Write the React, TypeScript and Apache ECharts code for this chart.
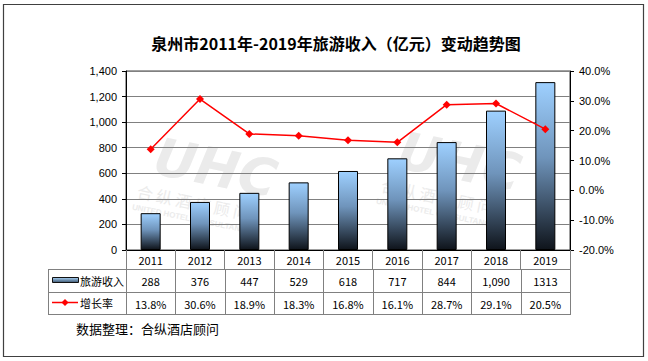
import React, { useEffect, useRef } from 'react';
import * as echarts from 'echarts';

const years = ['2011', '2012', '2013', '2014', '2015', '2016', '2017', '2018', '2019'];
const income = [288, 376, 447, 529, 618, 717, 844, 1090, 1313];
const incomeTableLabels = ['288', '376', '447', '529', '618', '717', '844', '1,090', '1313'];
const growth = [13.8, 30.6, 18.9, 18.3, 16.8, 16.1, 28.7, 29.1, 20.5];
const incomeAxis = { min: 0, max: 1400, interval: 200 };
const growthAxis = { min: -20, max: 40, interval: 10 };
const seriesNames = ['旅游收入', '增长率'];
const titleText = '泉州市2011年-2019年旅游收入（亿元）变动趋势图';
const sourceText = '数据整理：合纵酒店顾问';

const W = 648;
const H = 361;
const GL = 126;
const GR = 570;
const GT = 71;
const GB = 250;
const TABLE_L = 48;
const ROW1 = 269;
const ROW2 = 291.5;
const ROW3 = 314;

const CJK = "'Noto Sans CJK SC', 'Noto Sans', sans-serif";
const AXF = "'Liberation Sans', Arial, sans-serif";
const WM = '#ebebeb';

function fmtThousands(v: number) {
  return v.toLocaleString('en-US');
}

function watermark(x: number, y: number) {
  return {
    type: 'group',
    x,
    y,
    rotation: -0.2,
    silent: true,
    z: -5,
    children: [
      {
        type: 'text',
        x: 0,
        y: 0,
        style: {
          text: 'UHC',
          fontSize: 52,
          fontWeight: 'bold',
          fontStyle: 'italic',
          fontFamily: "'DejaVu Sans', sans-serif",
          fill: WM,
        },
      },
      {
        type: 'text',
        x: -10,
        y: 56,
        style: {
          text: '合 纵 酒 店 顾 问',
          fontSize: 16,
          fontFamily: CJK,
          fill: WM,
        },
      },
      {
        type: 'text',
        x: -12,
        y: 77,
        style: {
          text: 'UNITED HOTEL CONSULTANCY',
          fontSize: 8,
          fontWeight: 'bold',
          fontFamily: AXF,
          fill: WM,
        },
      },
    ],
  };
}

export default function App() {
  const ref = useRef<HTMLDivElement>(null);

  useEffect(() => {
    if (!ref.current) return;
    const chart = echarts.init(ref.current, undefined, { renderer: 'svg' });
    const n = years.length;
    const colW = (GR - GL) / n;

    const graphics: any[] = [];
    graphics.push({
      type: 'rect',
      shape: { x: 3.5, y: 4.5, width: 640, height: 352 },
      style: { fill: 'none', stroke: '#404040', lineWidth: 1.2 },
      silent: true,
    });
    graphics.push({
      type: 'text',
      x: 336,
      y: 43,
      style: {
        text: titleText,
        fontSize: 16,
        fontWeight: 'bold',
        fontFamily: CJK,
        fill: '#000',
        textAlign: 'center',
        textVerticalAlign: 'middle',
      },
    });
    graphics.push(watermark(160, 130));
    graphics.push(watermark(404, 124));

    const lineStyle = { stroke: '#808080', lineWidth: 1 };
    [ROW1, ROW2, ROW3].forEach((y) => {
      graphics.push({
        type: 'line',
        shape: { x1: TABLE_L, y1: Math.round(y) + 0.5, x2: GR + 0.5, y2: Math.round(y) + 0.5 },
        style: lineStyle,
        silent: true,
      });
    });
    graphics.push({
      type: 'line',
      shape: { x1: TABLE_L + 0.5, y1: ROW1, x2: TABLE_L + 0.5, y2: ROW3 + 1 },
      style: lineStyle,
      silent: true,
    });
    for (let i = 0; i <= n; i++) {
      const x = Math.round(GL + i * colW) + 0.5;
      graphics.push({
        type: 'line',
        shape: { x1: x, y1: ROW1, x2: x, y2: ROW3 + 1 },
        style: lineStyle,
        silent: true,
      });
    }
    for (let i = 0; i < n; i++) {
      const cx = GL + (i + 0.5) * colW;
      graphics.push({
        type: 'text',
        x: cx,
        y: (ROW1 + ROW2) / 2 + 1,
        style: {
          text: incomeTableLabels[i],
          fontSize: 11,
          fontFamily: CJK,
          fill: '#000',
          textAlign: 'center',
          textVerticalAlign: 'middle',
        },
      });
      graphics.push({
        type: 'text',
        x: cx,
        y: (ROW2 + ROW3) / 2 + 1,
        style: {
          text: growth[i].toFixed(1) + '%',
          fontSize: 11,
          fontFamily: CJK,
          fill: '#000',
          textAlign: 'center',
          textVerticalAlign: 'middle',
        },
      });
    }
    graphics.push({
      type: 'rect',
      shape: { x: 52.5, y: 277.5, width: 26, height: 5 },
      style: {
        fill: new echarts.graphic.LinearGradient(0, 0, 0, 1, [
          { offset: 0, color: '#a9d3f7' },
          { offset: 1, color: '#3d5670' },
        ]),
        stroke: '#111',
        lineWidth: 1,
      },
      silent: true,
    });
    graphics.push({
      type: 'text',
      x: 80,
      y: 280.5,
      style: {
        text: seriesNames[0],
        fontSize: 11,
        fontFamily: CJK,
        fill: '#000',
        textVerticalAlign: 'middle',
      },
    });
    graphics.push({
      type: 'line',
      shape: { x1: 52, y1: 302.5, x2: 78, y2: 302.5 },
      style: { stroke: '#ff0000', lineWidth: 1.5 },
      silent: true,
    });
    graphics.push({
      type: 'polygon',
      shape: { points: [[65, 299], [68.5, 302.5], [65, 306], [61.5, 302.5]] },
      style: { fill: '#ff0000' },
      silent: true,
    });
    graphics.push({
      type: 'text',
      x: 80,
      y: 302.5,
      style: {
        text: seriesNames[1],
        fontSize: 11,
        fontFamily: CJK,
        fill: '#000',
        textVerticalAlign: 'middle',
      },
    });
    graphics.push({
      type: 'text',
      x: 76,
      y: 328,
      style: {
        text: sourceText,
        fontSize: 13,
        fontFamily: CJK,
        fill: '#000',
        textVerticalAlign: 'middle',
      },
    });

    chart.setOption({
      animation: false,
      backgroundColor: '#fff',
      grid: {
        left: GL,
        right: W - GR,
        top: GT,
        bottom: H - GB,
        containLabel: false,
        outerBoundsMode: 'none',
        show: true,
        borderColor: '#404040',
        borderWidth: 1,
      },
      xAxis: {
        type: 'category',
        data: years,
        boundaryGap: true,
        axisLine: { show: true, lineStyle: { color: '#000', width: 1 } },
        axisTick: { show: true, interval: 0, length: 19, lineStyle: { color: '#808080' } },
        axisLabel: { margin: 4, fontSize: 11, fontFamily: CJK, color: '#000', interval: 0 },
        splitLine: { show: false },
      },
      yAxis: [
        {
          type: 'value',
          min: incomeAxis.min,
          max: incomeAxis.max,
          interval: incomeAxis.interval,
          axisLine: { show: true, lineStyle: { color: '#000' } },
          axisTick: { show: true, length: 4, lineStyle: { color: '#000' } },
          axisLabel: {
            margin: 9,
            fontSize: 11,
            fontFamily: AXF,
            color: '#000',
            formatter: (v: number) => fmtThousands(v),
          },
          splitLine: { show: true, lineStyle: { color: '#808080', width: 1.2 } },
        },
        {
          type: 'value',
          min: growthAxis.min,
          max: growthAxis.max,
          interval: growthAxis.interval,
          position: 'right',
          axisLine: { show: true, lineStyle: { color: '#000' } },
          axisTick: { show: true, length: 4, lineStyle: { color: '#000' } },
          axisLabel: {
            margin: 9,
            fontSize: 11,
            fontFamily: AXF,
            color: '#000',
            formatter: (v: number) => v.toFixed(1) + '%',
          },
          splitLine: { show: false },
        },
      ],
      series: [
        {
          name: seriesNames[0],
          type: 'bar',
          data: income,
          barWidth: 20,
          yAxisIndex: 0,
          z: 3,
          itemStyle: {
            color: new echarts.graphic.LinearGradient(0, 0, 0, 1, [
              { offset: 0, color: '#9ed0ff' },
              { offset: 0.45, color: '#6f94bb' },
              { offset: 1, color: '#0f141b' },
            ]),
            borderColor: '#000',
            borderWidth: 1,
          },
        },
        {
          name: seriesNames[1],
          type: 'line',
          data: growth,
          yAxisIndex: 1,
          z: 4,
          symbol: 'diamond',
          symbolSize: 8,
          lineStyle: { color: '#ff0000', width: 1.5 },
          itemStyle: { color: '#ff0000' },
        },
      ],
      graphic: graphics,
    });

    return () => chart.dispose();
  }, []);

  return (
    <div
      ref={ref}
      style={{ position: 'fixed', left: 0, top: 0, width: W, height: H }}
    />
  );
}
